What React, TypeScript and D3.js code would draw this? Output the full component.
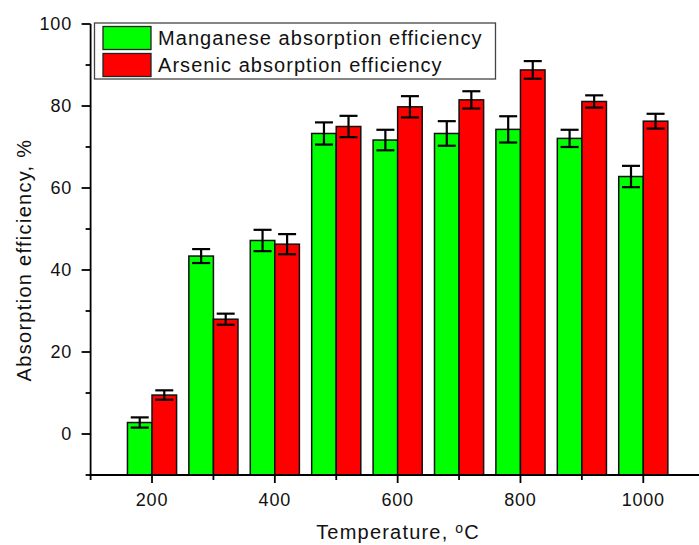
import React from 'react';
import * as d3 from 'd3';

// temperatures (°C) and absorption efficiencies (%)
const temperatures = [200, 300, 400, 500, 600, 700, 800, 900, 1000];
const manganese = [2.8, 43.4, 47.2, 73.3, 71.7, 73.3, 74.3, 72.1, 62.8];
const manganeseErr = [1.25, 1.7, 2.6, 2.7, 2.5, 3.0, 3.2, 2.1, 2.6];
const arsenic = [9.5, 28.0, 46.3, 75.0, 79.8, 81.5, 88.8, 81.1, 76.3];
const arsenicErr = [1.15, 1.35, 2.45, 2.6, 2.6, 2.1, 2.15, 1.5, 1.8];

const yMajor = [0, 20, 40, 60, 80, 100];
const yMinor = [-10, 10, 30, 50, 70, 90];
const xMajor = [200, 400, 600, 800, 1000];
const xMinor = [100, 300, 500, 700, 900, 1100];

const seriesNames = ['Manganese absorption efficiency', 'Arsenic absorption efficiency'];
const seriesColors = ['#00ff00', '#ff0000'];

const W = 699;
const H = 545;
const font = '"Liberation Sans", Arial, sans-serif';

export default function App() {
  const x = d3.scaleLinear().domain([100, 1100]).range([90.6, 704.7]);
  const y = d3.scaleLinear().domain([-10, 100]).range([475, 24]);
  const barW = x(140) - x(100);

  const series = [
    { values: manganese, errs: manganeseErr, offset: -40 },
    { values: arsenic, errs: arsenicErr, offset: 0 },
  ];

  return (
    <div style={{ position: 'absolute', left: 0, top: 0 }}>
      <svg width={W} height={H} style={{ display: 'block', background: '#fff' }} fontFamily={font}>
        {/* bars */}
        {series.map((s, si) => (
          <g key={si}>
            {temperatures.map((t, i) => (
              <rect
                key={t}
                x={x(t + s.offset)}
                y={y(s.values[i])}
                width={barW}
                height={y(-10) - y(s.values[i])}
                fill={seriesColors[si]}
                stroke="#111"
                strokeWidth={1.5}
              />
            ))}
          </g>
        ))}

        {/* error bars */}
        {series.map((s, si) => (
          <g key={'e' + si} stroke="#000" strokeWidth={2.2}>
            {temperatures.map((t, i) => {
              const cx = x(t + s.offset + 20);
              const top = y(s.values[i] + s.errs[i]);
              const bot = y(s.values[i] - s.errs[i]);
              return (
                <g key={t}>
                  <line x1={cx} x2={cx} y1={top} y2={bot} />
                  <line x1={cx - 9} x2={cx + 9} y1={top} y2={top} />
                  <line x1={cx - 9} x2={cx + 9} y1={bot} y2={bot} />
                </g>
              );
            })}
          </g>
        ))}

        {/* y axis */}
        <g stroke="#000" strokeWidth={1.8}>
          <line x1={x(100)} x2={x(100)} y1={y(100)} y2={y(-10) + 1} />
          {yMajor.map(v => (
            <line key={v} x1={x(100) - 9} x2={x(100)} y1={y(v)} y2={y(v)} />
          ))}
          {yMinor.map(v => (
            <line key={v} x1={x(100) - 5} x2={x(100)} y1={y(v)} y2={y(v)} />
          ))}
        </g>
        {yMajor.map(v => (
          <text key={v} x={72} y={y(v)} dy="0.35em" textAnchor="end" fontSize={18} letterSpacing={0.8} fill="#111">
            {v}
          </text>
        ))}

        {/* x axis */}
        <g stroke="#000" strokeWidth={1.8}>
          <line x1={x(100) - 1} x2={W} y1={y(-10)} y2={y(-10)} />
          {xMajor.map(v => (
            <line key={v} x1={x(v)} x2={x(v)} y1={y(-10)} y2={y(-10) + 8} />
          ))}
          {xMinor.map(v => (
            <line key={v} x1={x(v)} x2={x(v)} y1={y(-10)} y2={y(-10) + 5} />
          ))}
        </g>
        {xMajor.map(v => (
          <text key={v} x={x(v)} y={506} textAnchor="middle" fontSize={18} letterSpacing={0.8} fill="#111">
            {v}
          </text>
        ))}

        {/* axis titles */}
        <text x={398} y={539} textAnchor="middle" fontSize={20} letterSpacing={1.2} fill="#111">
          Temperature, <tspan fontSize={14} dy={-6}>o</tspan><tspan dy={6}>C</tspan>
        </text>
        <text
          transform={`translate(31, ${(138 + 382) / 2}) rotate(-90)`}
          textAnchor="middle"
          fontSize={20}
          letterSpacing={1.3}
          fill="#111"
        >
          Absorption efficiency, %
        </text>

        {/* legend */}
        <rect x={94.5} y={23} width={401} height={56} fill="#fff" stroke="#444" strokeWidth={1.3} />
        {seriesNames.map((name, i) => (
          <g key={name} transform={`translate(0, ${i * 27})`}>
            <rect x={103} y={26.5} width={48} height={23} fill={seriesColors[i]} stroke="#222" strokeWidth={1.3} />
            <text x={158} y={45} fontSize={20} letterSpacing={1.05} fill="#111">
              {name}
            </text>
          </g>
        ))}
      </svg>
    </div>
  );
}
